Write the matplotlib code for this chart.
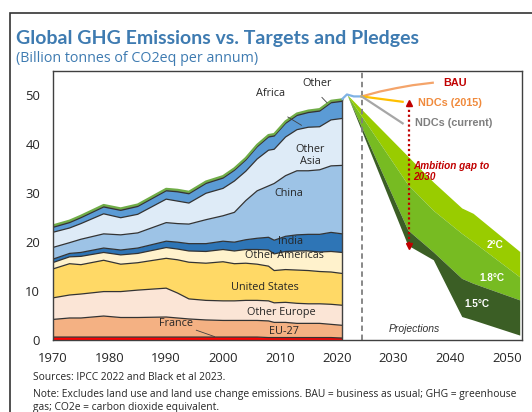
import matplotlib
matplotlib.use("Agg")
import matplotlib.pyplot as plt
import matplotlib.patches as mpatches
import numpy as np

# historical emissions by region (Gt CO2eq), stacked from bottom
years = [1970, 1973, 1975, 1979, 1982, 1985, 1990, 1992, 1994, 1997, 2000,
         2002, 2004, 2006, 2008, 2009, 2011, 2013, 2015, 2017, 2019, 2021]
france = [0.6, 0.6, 0.6, 0.6, 0.6, 0.6, 0.6, 0.6, 0.6, 0.6, 0.6,
          0.6, 0.6, 0.6, 0.5, 0.5, 0.5, 0.5, 0.5, 0.5, 0.5, 0.4]
eu27 = [3.6, 3.9, 3.9, 4.3, 4.0, 4.0, 4.1, 3.9, 3.7, 3.5, 3.4,
        3.4, 3.4, 3.4, 3.4, 3.1, 3.1, 2.9, 2.9, 2.9, 2.7, 2.6]
other_europe = [4.4, 4.7, 4.9, 5.0, 5.3, 5.6, 5.9, 5.1, 4.1, 4.0, 4.0,
                4.0, 4.1, 4.1, 4.1, 4.0, 4.1, 4.1, 4.0, 4.0, 4.1, 4.1]
united_states = [5.9, 6.4, 6.0, 6.4, 5.6, 5.6, 6.1, 6.8, 7.5, 7.6, 8.0,
                 7.6, 7.6, 7.4, 7.1, 6.6, 6.7, 6.8, 6.8, 6.6, 6.6, 6.5]
other_americas = [1.3, 1.4, 1.7, 1.6, 1.9, 1.9, 2.2, 2.2, 2.3, 2.4, 2.5,
                  2.6, 2.8, 3.0, 3.3, 3.4, 3.7, 3.9, 4.0, 4.0, 4.2, 4.3]
india = [0.7, 0.7, 0.8, 0.9, 1.0, 1.1, 1.3, 1.4, 1.5, 1.6, 1.7,
         1.8, 2.0, 2.3, 2.6, 2.8, 3.1, 3.3, 3.4, 3.6, 3.9, 3.8]
china = [2.4, 2.2, 2.7, 2.9, 3.1, 3.1, 3.8, 3.8, 4.0, 4.9, 5.2,
         6.1, 8.0, 9.7, 10.5, 11.6, 12.4, 13.1, 13.0, 13.2, 13.6, 14.0]
other_asia = [3.1, 3.0, 3.2, 4.1, 3.5, 3.8, 4.8, 4.6, 4.3, 5.4, 5.6,
              6.4, 6.0, 6.5, 7.3, 7.0, 7.9, 8.4, 8.9, 8.8, 9.4, 9.6]
africa = [1.0, 1.1, 1.2, 1.4, 1.5, 1.6, 1.7, 1.9, 1.9, 2.0, 2.1,
          2.2, 2.3, 2.5, 2.7, 2.7, 2.8, 2.9, 3.0, 3.2, 3.5, 3.5]
other = [0.4] * len(years)

# recent / projected pathways
recent_x = [2021, 2021.8, 2023.0, 2024.4]
recent_y = [49.3, 50.2, 49.8, 49.8]
bau_x = [2024.4, 2027.6, 2030.5, 2033.4, 2036.9]
bau_y = [49.8, 50.8, 51.5, 52.1, 52.6]
ndc2015_x = [2024.4, 2031.6]
ndc2015_y = [49.8, 48.7]
ndccur_x = [2024.4, 2031.6]
ndccur_y = [49.8, 44.3]

path_x = [2021.8, 2032.5, 2037.0, 2042.0, 2044.0, 2052.2]
path_2c_top = [50.2, 37.6, 32.3, 27.0, 25.9, 18.1]
path_18c_top = [50.2, 31.8, 26.5, 21.8, 20.1, 12.9]
path_15c_top = [50.2, 22.5, 18.0, 12.6, 11.6, 8.2]
path_15c_bot = [50.2, 19.4, 16.4, 4.8, 4.1, 1.0]

gap_x = 2032.7
gap_lo, gap_hi = 18.4, 49.3
split_year = 2024.4

tick_years = [1970, 1980, 1990, 2000, 2010, 2020, 2030, 2040, 2050]

colors = ["#FF0000", "#F4B183", "#FBE5D6", "#FFD966", "#FFF2CC",
          "#2E75B6", "#9DC3E6", "#DEEBF7", "#5B9BD5", "#595959"]

fig = plt.figure(figsize=(5.32, 4.12), dpi=100)
W, H = 532, 412
ax = fig.add_axes([52.5 / W, (H - 340) / H, 469.5 / W, 269.5 / H])

layers = [france, eu27, other_europe, united_states, other_americas,
          india, china, other_asia, africa, other]
ax.stackplot(years, *layers, colors=colors, linewidth=0)
cum = np.cumsum(np.array(layers), axis=0)
for row in cum[:-1]:
    ax.plot(years, row, color="#333333", lw=0.9)
ax.plot(years, cum[-1], color="#70AD47", lw=1.6)
ax.plot([years[-1], years[-1]], [0, cum[-1][-1]], color="#404040", lw=1)

ax.plot(recent_x, recent_y, color="#7FB2E5", lw=1.6)

ax.fill_between(path_x, path_18c_top, path_2c_top, color="#99CC00", lw=0)
ax.fill_between(path_x, path_15c_top, path_18c_top, color="#77BB22", lw=0)
ax.fill_between(path_x, path_15c_bot, path_15c_top, color="#3B5E25", lw=0)

ax.axvline(split_year, color="#7F7F7F", lw=1.3, ls=(0, (3, 2)))
ax.plot(bau_x, bau_y, color="#F4A46A", lw=1.6)
ax.plot(ndc2015_x, ndc2015_y, color="#FFC000", lw=1.6)
ax.plot(ndccur_x, ndccur_y, color="#A6A6A6", lw=1.6)

ax.plot([gap_x, gap_x], [gap_lo + 1.2, gap_hi - 1.2], color="#C00000",
        lw=1.6, ls=(0, (1, 1.2)))
ax.plot([gap_x], [gap_hi - 0.9], marker="^", color="#C00000", ms=5)
ax.plot([gap_x], [gap_lo + 0.9], marker="v", color="#C00000", ms=5)

# region labels
lab = dict(fontsize=7.8, color="#262626", family="Open Sans",
           ha="center", va="center")
ax.text(2008.4, 50.3, "Africa", **lab)
ax.text(2016.6, 52.5, "Other", **lab)
ax.plot([2011.4, 2013.8], [45.6, 43.9], color="#404040", lw=0.6)
ax.plot([2017.4, 2018.3], [49.6, 48.5], color="#404040", lw=0.6)
ax.text(2015.4, 37.8, "Other\nAsia", linespacing=1.15, **lab)
ax.text(2011.6, 29.9, "China", **lab)
ax.text(2011.9, 20.2, "India", **lab)
ax.text(2010.8, 17.2, "Other Americas", **lab)
ax.text(2007.3, 10.7, "United States", **lab)
ax.text(2010.3, 5.6, "Other Europe", **lab)
ax.text(1991.8, 3.3, "France", **lab)
ax.text(2010.8, 1.8, "EU-27", **lab)
ax.plot([1995.3, 1998.5], [2.0, 0.7], color="#404040", lw=0.6)

# projection labels
rl = dict(fontsize=7.8, fontweight="bold", family="Liberation Sans",
          va="center")
ax.text(2038.7, 52.5, "BAU", color="#C00000", **rl)
ax.text(2034.3, 48.4, "NDCs (2015)", color="#F08A3C", **rl)
ax.text(2033.7, 44.3, "NDCs (current)", color="#7F7F7F", **rl)
ax.text(2033.4, 34.5, "Ambition gap to\n2030", color="#C00000",
        fontsize=7.2, fontweight="bold", style="italic",
        family="Liberation Sans", va="center", linespacing=1.15)
wl = dict(color="white", fontsize=7.2, fontweight="bold",
          family="Liberation Sans", ha="center", va="center")
ax.text(2047.9, 19.4, "2°C", **wl)
ax.text(2047.3, 12.6, "1.8°C", **wl)
ax.text(2044.6, 7.3, "1.5°C", **wl)
ax.text(2033.6, 2.25, "Projections", color="#333333", fontsize=7.5,
        style="italic", family="Liberation Sans", ha="center", va="center")

ax.set_xlim(1970, 2052.6)
ax.set_ylim(0, 55.1)
ax.set_xticks(tick_years)
ax.set_xticklabels([str(y) for y in tick_years])
ax.set_yticks([0, 10, 20, 30, 40, 50])
ax.tick_params(length=0, labelsize=9.4, colors="#262626")
ax.tick_params(axis="x", pad=9)
ax.tick_params(axis="y", pad=9)
for t in ax.get_xticklabels() + ax.get_yticklabels():
    t.set_family("Open Sans")
for s in ax.spines.values():
    s.set_color("#404040")
    s.set_linewidth(1.0)

fig.text(16 / W, 1 - 44 / H, "Global GHG Emissions vs. Targets and Pledges",
         fontsize=14, fontweight="bold", color="#3E7BB1", family="Lato")
fig.text(16 / W, 1 - 62 / H, "(Billion tonnes of CO2eq per annum)",
         fontsize=10.3, color="#3E7BB1", family="Open Sans")
note = dict(fontsize=7.4, color="#262626", family="Open Sans", va="center")
fig.text(33 / W, 1 - 377 / H, "Sources: IPCC 2022 and Black et al 2023.",
         **note)
fig.text(33 / W, 1 - 394 / H,
         "Note: Excludes land use and land use change emissions. BAU = business as usual; GHG = greenhouse",
         **note)
fig.text(33 / W, 1 - 407.5 / H, "gas; CO2e = carbon dioxide equivalent.",
         **note)

frame = mpatches.Rectangle((10 / W, -0.1), 1.0, 1 - 13 / H + 0.1,
                           transform=fig.transFigure, fill=False,
                           edgecolor="#333333", lw=1.2)
fig.patches.append(frame)

fig.savefig("out.png", dpi=100)
